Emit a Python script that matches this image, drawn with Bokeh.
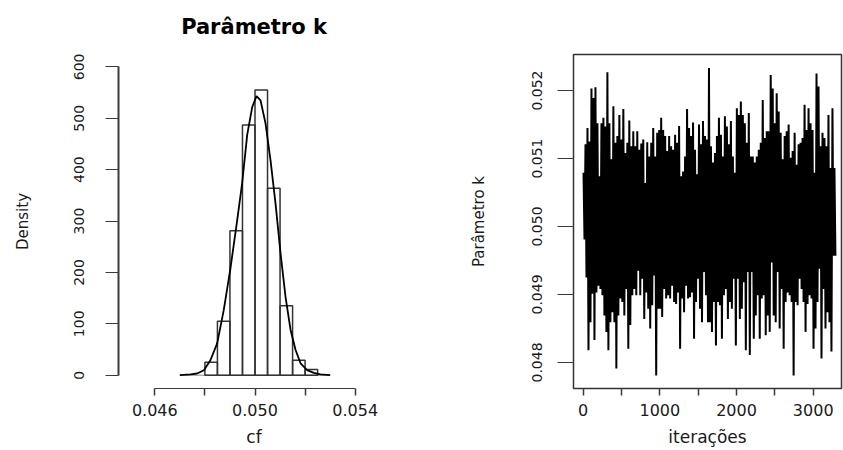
import numpy as np
from bokeh.plotting import figure
from bokeh.layouts import row
from bokeh.models import FixedTicker, PrintfTickFormatter, Range1d
from bokeh.embed import file_html
from bokeh.resources import INLINE

# ---------------- data: histogram of k ----------------
bin_edges = [0.0480, 0.0485, 0.0490, 0.0495, 0.0500, 0.0505, 0.0510, 0.0515, 0.0520, 0.0525]
bin_density = [25, 105, 281, 487, 555, 364, 135, 29, 11]

dens_x = [0.04700, 0.04743, 0.04769, 0.04796, 0.04822, 0.04849, 0.04875, 0.04902,
          0.04929, 0.04949, 0.04969, 0.04989, 0.05006, 0.05022, 0.05042, 0.05062,
          0.05082, 0.05102, 0.05122, 0.05142, 0.05162, 0.05182, 0.05208, 0.05235,
          0.05261, 0.05300]
dens_y = [0, 1.4, 3.3, 9.7, 29, 62, 126, 208,
          302, 375, 468, 522, 543, 535, 490, 418,
          334, 237, 152, 88, 49, 23, 9.7, 4.5,
          1.4, 0]
zero_line_x = [0.0470, 0.0530]

hist_xticks = [0.046, 0.050, 0.054]
hist_xminor = [0.048, 0.052]
hist_yticks = [0, 100, 200, 300, 400, 500, 600]

# ---------------- data: trace of k (upper / lower envelope of the chain) ----------------
trace_hi = [0.05079, 0.05121, 0.05145, 0.05125, 0.05203, 0.05189, 0.05205, 0.05152, 0.05074, 0.05152,
            0.05160, 0.05147, 0.05227, 0.05152, 0.05099, 0.05177, 0.05123, 0.05133, 0.05164, 0.05128,
            0.05173, 0.05108, 0.05123, 0.05156, 0.05118, 0.05140, 0.05118, 0.05140, 0.05113, 0.05122,
            0.05128,
            0.05064, 0.05124, 0.05103, 0.05123, 0.05145, 0.05103, 0.05138, 0.05142, 0.05160, 0.05142,
            0.05133, 0.05111, 0.05133, 0.05118, 0.05113, 0.05135, 0.05123, 0.05148, 0.05074, 0.05081,
            0.05103, 0.05173, 0.05145, 0.05133, 0.05153, 0.05113, 0.05077, 0.05150, 0.05121, 0.05155,
            0.05133,
            0.05128, 0.05233, 0.05118, 0.05094, 0.05108, 0.05133, 0.05160, 0.05135, 0.05103, 0.05162,
            0.05147, 0.05121, 0.05155, 0.05103, 0.05079, 0.05174, 0.05164, 0.05184, 0.05164, 0.05152,
            0.05123, 0.05167, 0.05103, 0.05103, 0.05094, 0.05103, 0.05113, 0.05123, 0.05186, 0.05130,
            0.05140,
            0.05140, 0.05223, 0.05203, 0.05152, 0.05196, 0.05169, 0.05138, 0.05099, 0.05133, 0.05140,
            0.05150, 0.05101, 0.05111, 0.05138, 0.05091, 0.05121, 0.05123, 0.05130, 0.05179, 0.05142,
            0.05174, 0.05152, 0.05142, 0.05079, 0.05225, 0.05206, 0.05118, 0.05138, 0.05130, 0.05118,
            0.05164, 0.05086, 0.05174, 0.05086]
trace_lo = [0.04981, 0.04925, 0.04818, 0.04859, 0.04901, 0.04833, 0.04903, 0.04913, 0.04908, 0.04899,
            0.04869, 0.04845, 0.04818, 0.04859, 0.04874, 0.04859, 0.04791, 0.04869, 0.04894, 0.04889,
            0.04869, 0.04908, 0.04820, 0.04855, 0.04899, 0.04908, 0.04899, 0.04935, 0.04899, 0.04923,
            0.04864,
            0.04903, 0.04879, 0.04850, 0.04884, 0.04928, 0.04781, 0.04879, 0.04879, 0.04867, 0.04908,
            0.04894, 0.04899, 0.04894, 0.04913, 0.04889, 0.04886, 0.04903, 0.04820, 0.04894, 0.04874,
            0.04913, 0.04894, 0.04896, 0.04903, 0.04835, 0.04889, 0.04923, 0.04879, 0.04859, 0.04933,
            0.04899,
            0.04859, 0.04859, 0.04845, 0.04889, 0.04825, 0.04889, 0.04884, 0.04835, 0.04899, 0.04908,
            0.04864, 0.04889, 0.04879, 0.04923, 0.04825, 0.04923, 0.04864, 0.04879, 0.04918, 0.04818,
            0.04933, 0.04811, 0.04933, 0.04835, 0.04869, 0.04899, 0.04835, 0.04894, 0.04899, 0.04840,
            0.04869,
            0.04845, 0.04947, 0.04869, 0.04859, 0.04933, 0.04850, 0.04908, 0.04820, 0.04889, 0.04903,
            0.04899, 0.04889, 0.04781, 0.04889, 0.04884, 0.04923, 0.04908, 0.04889, 0.04845, 0.04886,
            0.04899, 0.04894, 0.04820, 0.04850, 0.04889, 0.04938, 0.04806, 0.04908, 0.04850, 0.04874,
            0.04859, 0.04816, 0.04957, 0.04957]
first_iter, last_iter = 4, 3290
trace_xticks = [0, 1000, 2000, 3000]
trace_xminor = [500, 1500, 2500]
trace_yticks = [0.048, 0.049, 0.050, 0.051, 0.052]

FONT = "DejaVu Sans"
AX = "#3a3a3a"
TXT = "#1a1a1a"

# ---------------- left panel: histogram + density ----------------
p1 = figure(width=428, height=450, output_backend="svg", toolbar_location=None,
            x_range=Range1d(0.044551, 0.055369), y_range=Range1d(-25.9, 624.1),
            min_border_left=118, min_border_right=39, min_border_top=54, min_border_bottom=62)
p1.frame_align = False
p1.outline_line_color = None
p1.grid.grid_line_color = None
p1.background_fill_color = "white"
p1.border_fill_color = "white"

p1.title.text = "Parâmetro k"
p1.title.align = "center"
p1.title.vertical_align = "top"
p1.title.standoff = 27
p1.title.text_font = FONT
p1.title.text_font_size = "21px"
p1.title.text_font_style = "bold"
p1.title.text_color = "black"

p1.line(zero_line_x, [0, 0], line_color="#8a8a8a", line_width=1)
p1.quad(left=bin_edges[:-1], right=bin_edges[1:], bottom=0, top=bin_density,
        fill_color=None, line_color="#333333", line_width=1.5)
p1.line(dens_x, dens_y, line_color="black", line_width=1.8)

xa = p1.xaxis[0]
xa.ticker = FixedTicker(ticks=hist_xticks, minor_ticks=hist_xminor)
xa.formatter = PrintfTickFormatter(format="%.3f")
xa.bounds = (0.046, 0.054)
xa.axis_line_color = AX
xa.axis_line_width = 1
xa.major_tick_out = 7
xa.major_tick_in = 0
xa.minor_tick_out = 7
xa.minor_tick_in = 0
xa.major_tick_line_color = AX
xa.minor_tick_line_color = AX
xa.major_tick_line_width = 1.5
xa.minor_tick_line_width = 1.5
xa.major_label_standoff = 8
xa.major_label_text_font = FONT
xa.major_label_text_font_size = "16px"
xa.major_label_text_color = TXT
xa.axis_label = "cf"
xa.axis_label_text_font = FONT
xa.axis_label_text_font_size = "17px"
xa.axis_label_text_font_style = "normal"
xa.axis_label_text_color = TXT
xa.axis_label_standoff = 8

ya = p1.yaxis[0]
ya.ticker = FixedTicker(ticks=hist_yticks)
ya.bounds = (0, 600)
ya.axis_line_color = AX
ya.axis_line_width = 2
ya.major_tick_out = 13
ya.major_tick_in = 0
ya.minor_tick_line_color = None
ya.major_tick_line_color = AX
ya.major_tick_line_width = 1
ya.major_label_orientation = "vertical"
ya.major_label_standoff = 21
ya.major_label_text_font = FONT
ya.major_label_text_font_size = "14px"
ya.major_label_text_color = TXT
ya.axis_label = "Density"
ya.axis_label_text_font = FONT
ya.axis_label_text_font_size = "15px"
ya.axis_label_text_font_style = "normal"
ya.axis_label_text_color = TXT
ya.axis_label_standoff = 40

# ---------------- right panel: trace plot ----------------
p2 = figure(width=415, height=450, output_backend="svg", toolbar_location=None,
            x_range=Range1d(-126.5, 3369), y_range=Range1d(0.047617, 0.05253),
            min_border_left=145, min_border_right=2, min_border_top=54, min_border_bottom=62)
p2.frame_align = False
p2.grid.grid_line_color = None
p2.background_fill_color = "white"
p2.border_fill_color = "white"
p2.outline_line_color = "#333333"
p2.outline_line_width = 1.5
p2.outline_line_alpha = 1

iter_pos = np.linspace(first_iter, last_iter, 2 * len(trace_hi))
trace_y = []
for h, l in zip(trace_hi, trace_lo):
    trace_y.extend([h, l])
p2.line(iter_pos, trace_y, line_color="black", line_width=2)

xb = p2.xaxis[0]
xb.ticker = FixedTicker(ticks=trace_xticks, minor_ticks=trace_xminor)
xb.axis_line_color = None
xb.major_tick_out = 7
xb.major_tick_in = 0
xb.minor_tick_out = 7
xb.minor_tick_in = 0
xb.major_tick_line_color = AX
xb.minor_tick_line_color = AX
xb.major_tick_line_width = 1.5
xb.minor_tick_line_width = 1.5
xb.major_label_standoff = 8
xb.major_label_text_font = FONT
xb.major_label_text_font_size = "16px"
xb.major_label_text_color = TXT
xb.axis_label = "iterações"
xb.axis_label_text_font = FONT
xb.axis_label_text_font_size = "17px"
xb.axis_label_text_font_style = "normal"
xb.axis_label_text_color = TXT
xb.axis_label_standoff = 8

yb = p2.yaxis[0]
yb.ticker = FixedTicker(ticks=trace_yticks)
yb.formatter = PrintfTickFormatter(format="%.3f")
yb.axis_line_color = None
yb.major_tick_out = 16
yb.major_tick_in = 0
yb.minor_tick_line_color = None
yb.major_tick_line_color = AX
yb.major_tick_line_width = 1
yb.major_label_orientation = "vertical"
yb.major_label_standoff = 15
yb.major_label_text_font = FONT
yb.major_label_text_font_size = "14px"
yb.major_label_text_color = TXT
yb.axis_label = "Parâmetro k"
yb.axis_label_text_font = FONT
yb.axis_label_text_font_size = "15px"
yb.axis_label_text_font_style = "normal"
yb.axis_label_text_color = TXT
yb.axis_label_standoff = 42

layout = row(p1, p2)
open("out.html", "w").write(file_html(layout, INLINE))
